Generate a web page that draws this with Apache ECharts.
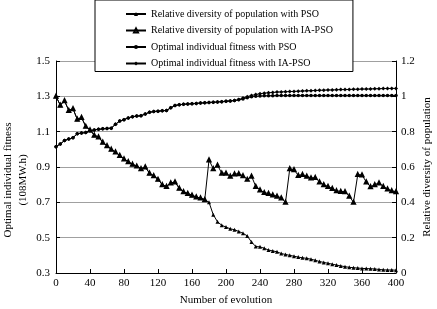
<!DOCTYPE html>
<html>
<head>
<meta charset="utf-8">
<script src="https://cdn.jsdelivr.net/npm/echarts@6/dist/echarts.min.js"></script>
<style>
html, body { margin: 0; padding: 0; background: #fff; }
#main { width: 437px; height: 309px; }
</style>
</head>
<body>
<div id="main"></div>
<script>
// generations (x values)
var gens = [0, 5, 10, 15, 20, 25, 30, 35, 40, 45, 50, 55, 60, 65, 70, 75, 80, 85, 90, 95,
    100, 105, 110, 115, 120, 125, 130, 135, 140, 145, 150, 155, 160, 165, 170, 175, 180, 185, 190, 195,
    200, 205, 210, 215, 220, 225, 230, 235, 240, 245, 250, 255, 260, 265, 270, 275, 280, 285, 290, 295,
    300, 305, 310, 315, 320, 325, 330, 335, 340, 345, 350, 355, 360, 365, 370, 375, 380, 385, 390, 395, 400];

// relative diversity (right axis)
var divPSO = [1.00, 0.95, 0.975, 0.92, 0.93, 0.87, 0.88, 0.83, 0.81, 0.78, 0.77, 0.74, 0.72, 0.70, 0.685, 0.665, 0.645, 0.63, 0.615, 0.605,
    0.59, 0.60, 0.565, 0.55, 0.53, 0.50, 0.49, 0.51, 0.515, 0.48, 0.46, 0.45, 0.44, 0.43, 0.425, 0.415, 0.40, 0.33, 0.29, 0.27,
    0.26, 0.25, 0.245, 0.235, 0.225, 0.21, 0.175, 0.15, 0.148, 0.14, 0.13, 0.125, 0.12, 0.11, 0.105, 0.10, 0.095, 0.09, 0.086, 0.083,
    0.078, 0.072, 0.065, 0.06, 0.055, 0.05, 0.045, 0.04, 0.036, 0.032, 0.03, 0.028, 0.026, 0.025, 0.024, 0.023, 0.02, 0.018, 0.017, 0.017, 0.016];
var divIA = [1.00, 0.95, 0.975, 0.92, 0.93, 0.87, 0.88, 0.83, 0.81, 0.78, 0.77, 0.74, 0.72, 0.70, 0.685, 0.665, 0.645, 0.63, 0.615, 0.605,
    0.59, 0.60, 0.565, 0.55, 0.53, 0.50, 0.49, 0.51, 0.515, 0.48, 0.46, 0.45, 0.44, 0.43, 0.425, 0.415, 0.64, 0.59, 0.61, 0.565,
    0.565, 0.548, 0.56, 0.562, 0.55, 0.53, 0.548, 0.49, 0.47, 0.455, 0.45, 0.442, 0.435, 0.425, 0.40, 0.59, 0.585, 0.552, 0.557, 0.548,
    0.538, 0.54, 0.515, 0.50, 0.49, 0.478, 0.465, 0.462, 0.46, 0.435, 0.40, 0.557, 0.555, 0.515, 0.488, 0.50, 0.51, 0.49, 0.476, 0.465, 0.46];

// optimal individual fitness (left axis)
var fitPSO = [1.015, 1.03, 1.05, 1.058, 1.066, 1.088, 1.092, 1.095, 1.105, 1.11, 1.113, 1.116, 1.118, 1.12, 1.142, 1.16, 1.168, 1.178, 1.185, 1.188,
    1.19, 1.20, 1.21, 1.214, 1.216, 1.218, 1.22, 1.235, 1.248, 1.252, 1.255, 1.257, 1.258, 1.26, 1.262, 1.263, 1.265, 1.266, 1.268, 1.27,
    1.272, 1.274, 1.276, 1.28, 1.285, 1.292, 1.297, 1.30, 1.302, 1.303, 1.304, 1.304, 1.305, 1.305, 1.305, 1.305, 1.305, 1.305, 1.305, 1.305,
    1.305, 1.305, 1.305, 1.305, 1.305, 1.305, 1.305, 1.305, 1.305, 1.305, 1.305, 1.305, 1.305, 1.305, 1.305, 1.305, 1.305, 1.305, 1.305, 1.305, 1.305];
var fitIA = [1.015, 1.03, 1.05, 1.058, 1.066, 1.088, 1.092, 1.095, 1.105, 1.11, 1.113, 1.116, 1.118, 1.12, 1.142, 1.16, 1.168, 1.178, 1.185, 1.188,
    1.19, 1.20, 1.21, 1.214, 1.216, 1.218, 1.22, 1.235, 1.248, 1.252, 1.255, 1.257, 1.258, 1.26, 1.262, 1.263, 1.265, 1.266, 1.268, 1.27,
    1.272, 1.274, 1.276, 1.282, 1.29, 1.298, 1.305, 1.31, 1.315, 1.318, 1.32, 1.322, 1.324, 1.325, 1.326, 1.327, 1.328, 1.329, 1.33, 1.331,
    1.332, 1.333, 1.334, 1.335, 1.336, 1.336, 1.337, 1.338, 1.338, 1.339, 1.34, 1.34, 1.341, 1.341, 1.342, 1.343, 1.343, 1.344, 1.344, 1.345, 1.345];

var leftTicks = [0.3, 0.5, 0.7, 0.9, 1.1, 1.3, 1.5];

var names = ['Relative diversity of population with PSO', 'Relative diversity of population with IA-PSO',
    'Optimal individual fitness with PSO', 'Optimal individual fitness with IA-PSO'];

function pairs(vals) {
    return gens.map(function (g, i) { return [g, vals[i]]; });
}

var font = 'Liberation Serif';
var chart = echarts.init(document.getElementById('main'));

function mk(name, vals, axis, symbol, size, border, z) {
    return {
        name: name,
        type: 'line',
        yAxisIndex: axis,
        data: pairs(vals),
        symbol: symbol,
        symbolSize: size,
        lineStyle: { color: '#000', width: 1 },
        itemStyle: { color: '#000', borderWidth: border },
        z: z
    };
}

var option = {
    animation: false,
    backgroundColor: '#fff',
    textStyle: { fontFamily: font },
    grid: { left: 56, right: 41, top: 61, bottom: 36, outerBoundsMode: 'none', containLabel: false },
    legend: {
        orient: 'vertical',
        left: 95,
        top: 0,
        data: names,
        itemWidth: 20,
        itemHeight: 5,
        itemGap: 4.5,
        padding: [8, 20, 2, 30],
        backgroundColor: '#fff',
        borderColor: '#000',
        borderWidth: 1,
        textStyle: { fontFamily: font, fontSize: 10, color: '#000', lineHeight: 12 },
        z: 10
    },
    xAxis: {
        type: 'value',
        min: 0,
        max: 400,
        interval: 40,
        name: 'Number of evolution',
        nameLocation: 'middle',
        nameGap: 22,
        nameTextStyle: { fontFamily: font, fontSize: 11, color: '#000' },
        axisLine: { lineStyle: { color: '#000' } },
        axisTick: { inside: true, length: 4, lineStyle: { color: '#000' } },
        axisLabel: { fontFamily: font, fontSize: 11, color: '#000', margin: 5 },
        splitLine: { show: false }
    },
    yAxis: [{
        type: 'value',
        min: 0.3,
        max: 1.5,
        position: 'left',
        name: 'Optimal individual fitness\n(108MW.h)',
        nameLocation: 'middle',
        nameRotate: 90,
        nameGap: 25,
        nameMoveOverlap: false,
        nameTextStyle: { fontFamily: font, fontSize: 11, color: '#000', lineHeight: 15, padding: [0, 26, 0, 0] },
        axisLine: { show: true, lineStyle: { color: '#000' } },
        axisTick: { show: true, inside: true, length: 4, customValues: leftTicks, lineStyle: { color: '#000' } },
        axisLabel: { fontFamily: font, fontSize: 11, color: '#000', margin: 6, customValues: leftTicks },
        splitLine: { show: false }
    }, {
        type: 'value',
        min: 0,
        max: 1.2,
        interval: 0.2,
        position: 'right',
        name: 'Relative diversity of population',
        nameLocation: 'middle',
        nameRotate: 90,
        nameGap: 26,
        nameMoveOverlap: false,
        nameTextStyle: { fontFamily: font, fontSize: 11, color: '#000' },
        axisLine: { show: true, lineStyle: { color: '#000' } },
        axisTick: { show: true, inside: true, length: 4, lineStyle: { color: '#000' } },
        axisLabel: { fontFamily: font, fontSize: 11, color: '#000', margin: 5 },
        splitLine: { show: true, lineStyle: { color: '#a0a0a0', width: 1 } }
    }],
    series: [
        mk(names[0], divPSO, 1, 'triangle', 4, 0, 4),
        mk(names[1], divIA, 1, 'emptyTriangle', 3, 1, 3),
        mk(names[2], fitPSO, 0, 'circle', 3.5, 0, 4),
        mk(names[3], fitIA, 0, 'diamond', 4, 0, 3)
    ]
};
chart.setOption(option);
</script>
</body>
</html>
